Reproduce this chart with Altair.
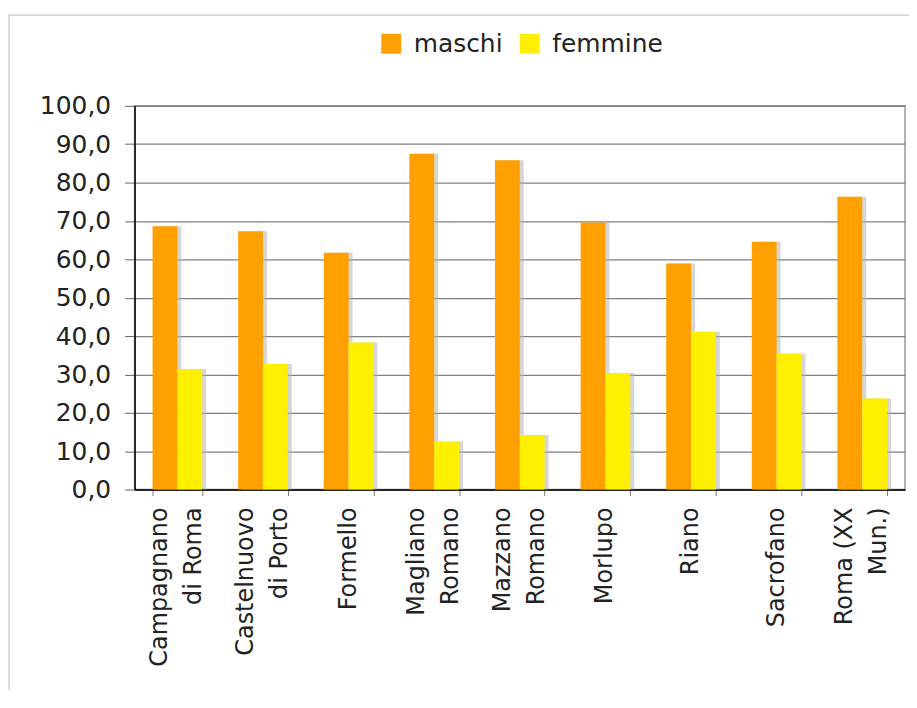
import altair as alt
import pandas as pd

categories = [
    "Campagnano\ndi Roma",
    "Castelnuovo\ndi Porto",
    "Formello",
    "Magliano\nRomano",
    "Mazzano\nRomano",
    "Morlupo",
    "Riano",
    "Sacrofano",
    "Roma (XX\nMun.)",
]
maschi = [68.6, 67.3, 61.7, 87.5, 85.8, 69.6, 58.9, 64.6, 76.3]
femmine = [31.4, 32.7, 38.3, 12.5, 14.2, 30.4, 41.1, 35.4, 23.7]
series = ["maschi", "femmine"]
colors = ["#FFA000", "#FFF000"]
y_ticks = [0, 10, 20, 30, 40, 50, 60, 70, 80, 90, 100]

rows = []
for c, m, f in zip(categories, maschi, femmine):
    rows.append({"comune": c, "sesso": "maschi", "valore": m})
    rows.append({"comune": c, "sesso": "femmine", "valore": f})
df = pd.DataFrame(rows)

# label lines (one row per printed line of each category label)
single_rows, first_rows, second_rows = [], [], []
for c in categories:
    parts = c.split("\n")
    if len(parts) == 1:
        single_rows.append({"comune": c, "testo": parts[0]})
    else:
        first_rows.append({"comune": c, "testo": parts[0]})
        second_rows.append({"comune": c, "testo": parts[1]})

FONT = "DejaVu Sans"
PLOT_W = 773
PLOT_H = 385
BAND = PLOT_W / 9 * 0.58

x_enc = alt.X(
    "comune:N",
    sort=categories,
    scale=alt.Scale(paddingInner=0.42, paddingOuter=0.21),
    axis=alt.Axis(
        title=None,
        labels=False,
        tickBand="extent",
        tickSize=6,
        tickColor="#777777",
        domainColor="#000000",
        domainWidth=1.5,
        grid=False,
    ),
)
y_enc = alt.Y(
    "valore:Q",
    scale=alt.Scale(domain=[0, 100], nice=False),
    axis=alt.Axis(
        title=None,
        values=y_ticks,
        labelExpr="replace(format(datum.value, '.1f'), '.', ',')",
        labelFontSize=25,
        labelFont=FONT,
        labelColor="#222222",
        labelPadding=14,
        tickSize=10,
        tickColor="#666666",
        domainColor="#000000",
        domainWidth=1.5,
        grid=True,
        gridColor="#808080",
        gridWidth=1.2,
    ),
)

shadow = alt.Chart(df).mark_bar(color="#b4b4b4", opacity=0.55).encode(
    x=x_enc,
    y=y_enc,
    xOffset=alt.XOffset(
        "sesso:N",
        sort=series,
        scale=alt.Scale(paddingInner=0, paddingOuter=0, range=[4, BAND + 4]),
    ),
)

bars = alt.Chart(df).mark_bar().encode(
    x=x_enc,
    y=y_enc,
    xOffset=alt.XOffset(
        "sesso:N", sort=series, scale=alt.Scale(paddingInner=0, paddingOuter=0)
    ),
    color=alt.Color(
        "sesso:N",
        sort=series,
        scale=alt.Scale(domain=series, range=colors),
        legend=alt.Legend(
            title=None,
            orient="none",
            legendX=245,
            legendY=-75,
            direction="horizontal",
            symbolType="square",
            symbolSize=400,
            symbolStrokeWidth=0,
            labelFontSize=25,
            labelFont=FONT,
            labelColor="#222222",
            labelOffset=10,
            columnPadding=14,
        ),
    ),
)


def label_layer(rows_, dy):
    return alt.Chart(alt.Data(values=rows_)).mark_text(
        angle=270,
        align="right",
        baseline="middle",
        dy=dy,
        fontSize=24,
        font=FONT,
        color="#222222",
    ).encode(
        x=alt.X("comune:N", sort=categories),
        y=alt.value(403),
        text="testo:N",
    )


labels = [
    label_layer(single_rows, 0),
    label_layer(first_rows, -17),
    label_layer(second_rows, 17),
]

frame = alt.Chart(alt.Data(values=[{}])).mark_rect(
    filled=False, stroke="#c8c8c8", strokeWidth=1.2
).encode(
    x=alt.value(-126), x2=alt.value(780), y=alt.value(-91), y2=alt.value(640)
)

chart = (
    alt.layer(frame, shadow, bars, *labels)
    .resolve_scale(xOffset="independent")
    .properties(
        width=PLOT_W,
        height=PLOT_H,
        autosize=alt.AutoSizeParams(type="none"),
        padding={"left": 127, "top": 97, "right": 4, "bottom": 200},
        background="white",
    )
    .configure_view(stroke="#999999", strokeWidth=1.5)
)

chart.save("out.html", embed_options={"renderer": "svg", "actions": False})
